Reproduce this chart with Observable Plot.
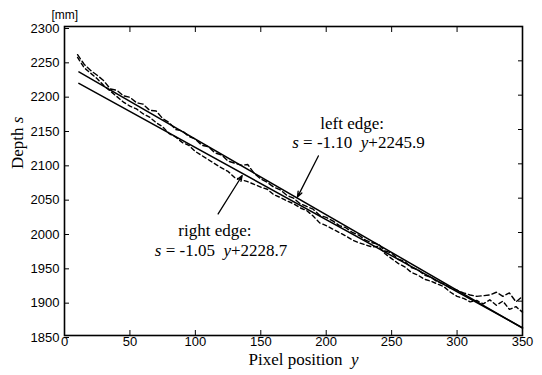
<!DOCTYPE html>
<html>
<head>
<meta charset="utf-8">
<script src="https://cdn.jsdelivr.net/npm/d3@7"></script>
<script src="https://cdn.jsdelivr.net/npm/@observablehq/plot@0.6"></script>
<style>
  html, body { margin: 0; padding: 0; background: #fff; }
  #chart svg { display: block; }
</style>
</head>
<body>
<div id="chart"></div>
<script>
// ---- data ----
const xTicks = [0, 50, 100, 150, 200, 250, 300, 350];
const yTicks = [1850, 1900, 1950, 2000, 2050, 2100, 2150, 2200, 2250, 2300];

const pixelPos = [10, 15, 20, 25, 30, 35, 40, 45, 50, 55, 60, 65, 70, 75, 80, 85, 90, 95,
  100, 105, 110, 115, 120, 125, 130, 135, 140, 145, 150, 155, 160, 165, 170, 175, 180, 185,
  190, 195, 200, 205, 210, 215, 220, 225, 230, 235, 240, 245, 250, 255, 260, 265, 270, 275,
  280, 285, 290, 295, 300, 305, 310, 315, 320, 325, 330, 335, 340, 345, 350];

// measured depth, left edge (upper noisy dashed curve)
const depthLeft = [2259, 2245, 2236, 2229, 2221, 2209, 2207, 2199, 2197, 2189, 2187, 2178, 2177,
  2166, 2160, 2150, 2148, 2140, 2136, 2127, 2125, 2116, 2113, 2104, 2101, 2098, 2099, 2086,
  2078, 2073, 2066, 2062, 2054, 2050, 2042, 2038, 2034, 2025, 2022, 2017, 2010, 2007, 2000,
  1996, 1989, 1985, 1983, 1973, 1970, 1961, 1958, 1949, 1946, 1938, 1935, 1928, 1925, 1919,
  1916, 1912, 1909, 1907, 1908, 1909, 1913, 1907, 1912, 1899, 1907];

// measured depth, right edge (lower noisy dashed curve)
const depthRight = [2255, 2240, 2232, 2224, 2214, 2206, 2198, 2190, 2184, 2180, 2173, 2168, 2160,
  2154, 2144, 2139, 2131, 2127, 2118, 2112, 2106, 2100, 2094, 2089, 2080, 2077, 2074, 2070,
  2066, 2063, 2055, 2051, 2046, 2042, 2036, 2032, 2024, 2014, 2010, 2005, 2000, 1995, 1989,
  1985, 1982, 1979, 1980, 1969, 1962, 1955, 1950, 1942, 1938, 1932, 1929, 1925, 1921, 1913,
  1907, 1904, 1899, 1901, 1896, 1902, 1894, 1900, 1888, 1892, 1884];

// fitted lines (end points)
const fitX = [11, 350];
const fitLeft = [2233.8, 1860.9];   // s = -1.10 y + 2245.9
const fitRight = [2217.2, 1861.2];  // s = -1.05 y + 2228.7

// annotations
const noteText = ["left edge:", "s = -1.10  y+2245.9", "right edge:", "s = -1.05  y+2228.7"];
const noteX = [195.5, 174, 87, 69];
const noteY = [2151, 2123, 1995, 1966];

const arrowX1 = [194, 117.4];
const arrowY1 = [2111.5, 2027];
const arrowX2 = [178, 135.8];
const arrowY2 = [2051.5, 2083];

const xLabel = "Pixel position  y";
const yLabel = "Depth s";
const unitLabel = "[mm]";

// ---- tables ----
const seriesA = pixelPos.map((x, i) => ({x, s: depthLeft[i]}));
const seriesB = pixelPos.map((x, i) => ({x, s: depthRight[i]}));
const lineL = fitX.map((x, i) => ({x, s: fitLeft[i]}));
const lineR = fitX.map((x, i) => ({x, s: fitRight[i]}));
const notes = noteText.map((t, i) => ({t, x: noteX[i], s: noteY[i]}));
const arrows = arrowX1.map((x1, i) => ({x1, y1: arrowY1[i], x2: arrowX2[i], y2: arrowY2[i]}));

const serif = "'Liberation Serif', 'Times New Roman', serif";
const sans = "'Liberation Sans', Arial, Helvetica, sans-serif";

const chart = Plot.plot({
  width: 542,
  height: 375,
  marginLeft: 64,
  marginRight: 20,
  marginTop: 26,
  marginBottom: 40,
  style: {fontFamily: sans, fontSize: "13px", background: "#fff", color: "#000", overflow: "visible"},
  x: {domain: [0, 350]},
  y: {domain: [1850, 2300]},
  marks: [
    Plot.axisX(xTicks, {anchor: "bottom", tickSize: -5, tickPadding: 6.5, tickFormat: d3.format("d"), label: null}),
    Plot.axisX(xTicks, {anchor: "top", tickSize: -5, tickFormat: () => "", label: null}),
    Plot.axisY(yTicks, {anchor: "left", tickSize: -5, tickPadding: 10, dy: 2, tickFormat: d3.format("d"), label: null}),
    Plot.axisY(yTicks, {anchor: "right", tickSize: -5, tickFormat: () => "", label: null}),
    Plot.line(lineL, {x: "x", y: "s", stroke: "#000", strokeWidth: 1.5}),
    Plot.line(lineR, {x: "x", y: "s", stroke: "#000", strokeWidth: 1.5}),
    Plot.line(seriesA, {x: "x", y: "s", stroke: "#000", strokeWidth: 1.4, strokeDasharray: "5,3"}),
    Plot.line(seriesB, {x: "x", y: "s", stroke: "#000", strokeWidth: 1.4, strokeDasharray: "4,3"}),
    Plot.arrow(arrows, {x1: "x1", y1: "y1", x2: "x2", y2: "y2", stroke: "#000", strokeWidth: 1.3, headLength: 7, headAngle: 40}),
    Plot.text(notes, {x: "x", y: "s", text: "t", textAnchor: "start", lineAnchor: "bottom",
      fontFamily: serif, fontSize: 17, fill: "#000"}),
    Plot.text([xLabel], {text: d => d, frameAnchor: "bottom", dy: 29, dx: 10, lineAnchor: "bottom",
      fontFamily: serif, fontSize: 17, fill: "#000"}),
    Plot.text([yLabel], {text: d => d, frameAnchor: "left", dx: -47, dy: -12, rotate: -90, lineAnchor: "middle",
      fontFamily: serif, fontSize: 17, fill: "#000"}),
    Plot.text([unitLabel], {text: d => d, frameAnchor: "top-left", dx: -13, dy: -8, lineAnchor: "bottom",
      fontFamily: sans, fontSize: 12, fill: "#000"}),
    Plot.frame({stroke: "#000", strokeWidth: 1.6})
  ]
});

// italicise the math variables s and y
d3.select(chart).selectAll("text").each(function () {
  if (this.querySelector("tspan")) return;
  const t = this.textContent;
  if (!/\b[sy]\b/.test(t)) return;
  const parts = t.split(/(\b[sy]\b)/);
  this.textContent = "";
  this.setAttribute("xml:space", "preserve");
  this.style.whiteSpace = "pre";
  for (const p of parts) {
    if (!p) continue;
    const ts = document.createElementNS("http://www.w3.org/2000/svg", "tspan");
    ts.textContent = p;
    if (/^[sy]$/.test(p)) ts.setAttribute("font-style", "italic");
    this.appendChild(ts);
  }
});

document.getElementById("chart").appendChild(chart);
</script>
</body>
</html>
